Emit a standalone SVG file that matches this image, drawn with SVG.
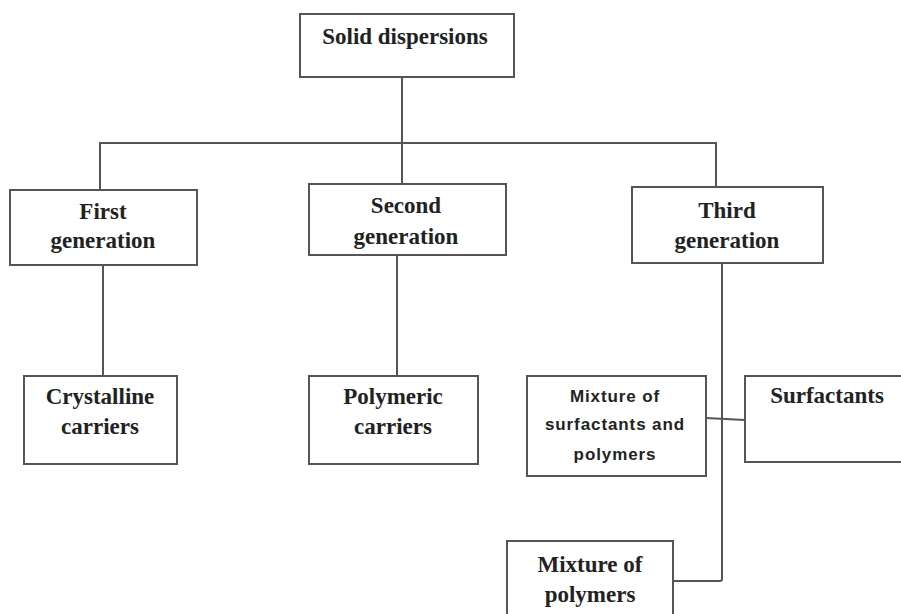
<svg xmlns="http://www.w3.org/2000/svg" width="901" height="614" viewBox="0 0 901 614">
<style>
.box{fill:#fff;stroke:#555;stroke-width:2}
.t{font-family:"Liberation Serif","Times New Roman",serif;font-weight:bold;font-size:23px;fill:#222;text-anchor:middle}
.s{font-family:"Liberation Sans",Arial,sans-serif;font-weight:bold;font-size:17px;letter-spacing:0.9px;fill:#222;text-anchor:middle}
.c{fill:none;stroke:#555;stroke-width:2}
</style>
<rect width="901" height="614" fill="#fff"/>
<g id="connectors">
<path class="c" d="M402,77 V184"/>
<path class="c" d="M100,190 V143 H716 V187"/>
<path class="c" d="M103,264 V376"/>
<path class="c" d="M397,255 V376"/>
<path class="c" d="M722,263 V579 Q722,581 720,581 H673"/>
<path class="c" d="M706,418 L745,420"/>
</g>
<g id="solid">
<rect class="box" x="300" y="14" width="214" height="63"/>
<text class="t" x="405" y="44">Solid dispersions</text>
</g>
<g id="first">
<rect class="box" x="10" y="190" width="187" height="75"/>
<text class="t" x="103" y="219">First</text>
<text class="t" x="103" y="248">generation</text>
</g>
<g id="second">
<rect class="box" x="309" y="184" width="197" height="71"/>
<text class="t" x="406" y="213">Second</text>
<text class="t" x="406" y="244">generation</text>
</g>
<g id="third">
<rect class="box" x="632" y="187" width="191" height="76"/>
<text class="t" x="727" y="218">Third</text>
<text class="t" x="727" y="248">generation</text>
</g>
<g id="crystalline">
<rect class="box" x="24" y="376" width="153" height="88"/>
<text class="t" x="100" y="404">Crystalline</text>
<text class="t" x="100" y="434">carriers</text>
</g>
<g id="polymeric">
<rect class="box" x="309" y="376" width="169" height="88"/>
<text class="t" x="393" y="404">Polymeric</text>
<text class="t" x="393" y="434">carriers</text>
</g>
<g id="mixsurfpoly">
<rect class="box" x="527" y="376" width="179" height="100"/>
<text class="s" x="615" y="402">Mixture of</text>
<text class="s" x="615" y="430">surfactants and</text>
<text class="s" x="615" y="460">polymers</text>
</g>
<g id="surfactants">
<rect class="box" x="745" y="376" width="170" height="86"/>
<text class="t" x="827" y="403">Surfactants</text>
</g>
<g id="mixpoly">
<rect class="box" x="507" y="541" width="166" height="90"/>
<text class="t" x="590" y="572">Mixture of</text>
<text class="t" x="590" y="602">polymers</text>
</g>
</svg>
